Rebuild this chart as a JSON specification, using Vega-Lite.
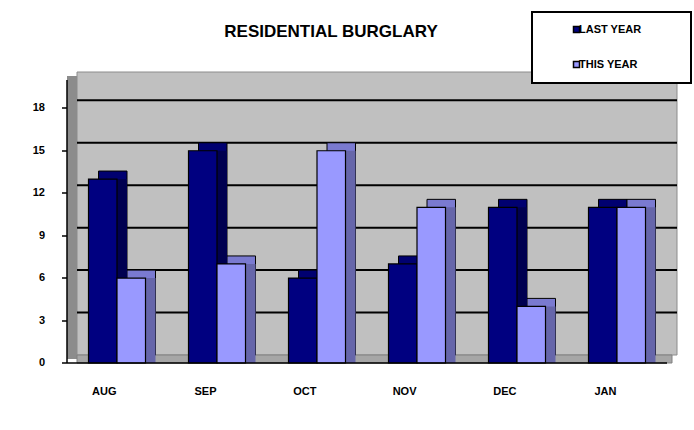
{
  "$schema": "https://vega.github.io/schema/vega-lite/v6.json",
  "width": 600,
  "height": 283,
  "autosize": "none",
  "padding": {"left": 77, "top": 72, "right": 17, "bottom": 75},
  "background": "white",
  "title": {
    "text": "RESIDENTIAL BURGLARY",
    "font": "Liberation Sans",
    "fontSize": 17,
    "fontWeight": "bold",
    "color": "black",
    "anchor": "middle",
    "frame": "group",
    "dx": -46,
    "offset": -43,
    "baseline": "alphabetic"
  },
  "config": {
    "view": {"stroke": null},
    "font": "Liberation Sans",
    "legend": {"strokeWidth": 2}
  },
  "resolve": {"scale": {"xOffset": "independent"}, "axis": {"y": "independent"}},
  "data": {
    "values": [
      {"m": "AUG", "s": "LAST YEAR", "v": 13},
      {"m": "AUG", "s": "THIS YEAR", "v": 6},
      {"m": "SEP", "s": "LAST YEAR", "v": 15},
      {"m": "SEP", "s": "THIS YEAR", "v": 7},
      {"m": "OCT", "s": "LAST YEAR", "v": 6},
      {"m": "OCT", "s": "THIS YEAR", "v": 15},
      {"m": "NOV", "s": "LAST YEAR", "v": 7},
      {"m": "NOV", "s": "THIS YEAR", "v": 11},
      {"m": "DEC", "s": "LAST YEAR", "v": 11},
      {"m": "DEC", "s": "THIS YEAR", "v": 4},
      {"m": "JAN", "s": "LAST YEAR", "v": 11},
      {"m": "JAN", "s": "THIS YEAR", "v": 11}
    ]
  },
  "layer": [
    {
      "data": {"values": [{"a": 0, "b": 20}]},
      "mark": {"type": "rect", "fill": "#c0c0c0", "stroke": "#8c8c8c", "strokeWidth": 1},
      "encoding": {
        "y": {
          "field": "a", "type": "quantitative",
          "axis": {
            "orient": "left", "title": null, "labels": false, "ticks": false, "grid": false,
            "offset": 9, "translate": 4, "domainColor": "#8c8c8c", "domainWidth": 10, "domainCap": "butt"
          }
        },
        "y2": {"field": "b"}
      }
    },
    {
      "data": {"values": [{"a": 0, "b": -0.565}]},
      "mark": {"type": "rect", "fill": "#a6a6a6", "stroke": "#808080", "strokeWidth": 1, "xOffset": -5},
      "encoding": {
        "y": {"field": "a", "type": "quantitative", "axis": null},
        "y2": {"field": "b"}
      }
    },
    {
      "data": {"values": [{"g": 3}, {"g": 6}, {"g": 9}, {"g": 12}, {"g": 15}, {"g": 18}]},
      "mark": {"type": "rule", "stroke": "black", "strokeWidth": 2},
      "encoding": {
        "y": {"field": "g", "type": "quantitative", "axis": null}
      }
    },
    {
      "mark": {"type": "bar", "stroke": "black", "strokeWidth": 1},
      "encoding": {
        "x": {"field": "m", "type": "nominal", "sort": null},
        "xOffset": {"field": "s", "type": "nominal", "scale": {"range": [0, 57], "paddingInner": 0, "paddingOuter": 0}},
        "y": {"field": "v", "type": "quantitative", "axis": null},
        "fill": {"condition": {"test": "datum.s === 'LAST YEAR'", "value": "#000070"}, "value": "#7a7ad0"}
      }
    },
    {
      "mark": {"type": "bar", "yOffset": 8},
      "encoding": {
        "x": {"field": "m", "type": "nominal", "sort": null},
        "xOffset": {"field": "s", "type": "nominal", "scale": {"range": [0, 57], "paddingInner": 0, "paddingOuter": 0}},
        "y": {"field": "v", "type": "quantitative", "axis": null},
        "fill": {"condition": {"test": "datum.s === 'LAST YEAR'", "value": "#000050"}, "value": "#6666aa"}
      }
    },
    {
      "mark": {"type": "bar", "stroke": "black", "strokeWidth": 1.2, "yOffset": 8},
      "encoding": {
        "x": {
          "field": "m", "type": "nominal", "sort": null,
          "scale": {"paddingInner": 0.43, "paddingOuter": 0.215},
          "axis": {
            "title": null, "labelAngle": 0, "ticks": false,
            "offset": 18, "translate": -10, "zindex": 1,
            "labelPadding": 29, "labelFont": "Liberation Sans", "labelFontSize": 11,
            "labelFontWeight": "bold", "labelColor": "black",
            "domainColor": "black", "domainWidth": 1.5
          }
        },
        "xOffset": {"field": "s", "type": "nominal", "scale": {"range": [-10, 47], "paddingInner": 0, "paddingOuter": 0}},
        "y": {
          "field": "v", "type": "quantitative",
          "scale": {"domain": [0, 20], "nice": false},
          "axis": {
            "orient": "left",
            "title": null, "values": [0, 3, 6, 9, 12, 15, 18], "grid": false,
            "offset": 18, "translate": 8, "zindex": 1,
            "tickColor": "black", "tickSize": 5, "tickWidth": 1.5,
            "labelPadding": 17, "labelFont": "Liberation Sans", "labelFontSize": 11,
            "labelFontWeight": "bold", "labelColor": "black",
            "domainColor": "black", "domainWidth": 1.5
          }
        },
        "color": {
          "field": "s", "type": "nominal",
          "scale": {"domain": ["LAST YEAR", "THIS YEAR"], "range": ["#000080", "#9999ff"]},
          "legend": {
            "title": "\u00a0",
            "titleOrient": "right",
            "titlePadding": 38,
            "orient": "none",
            "legendX": 455,
            "legendY": -60,
            "padding": 12,
            "fillColor": "white",
            "strokeColor": "black",
            "symbolType": "square",
            "symbolSize": 36,
            "symbolStrokeColor": "black",
            "symbolStrokeWidth": 1.5,
            "symbolOffset": 27,
            "labelOffset": -3,
            "rowPadding": 22,
            "labelFont": "Liberation Sans",
            "labelFontSize": 11,
            "labelFontWeight": "bold",
            "labelColor": "black"
          }
        }
      }
    }
  ]
}
